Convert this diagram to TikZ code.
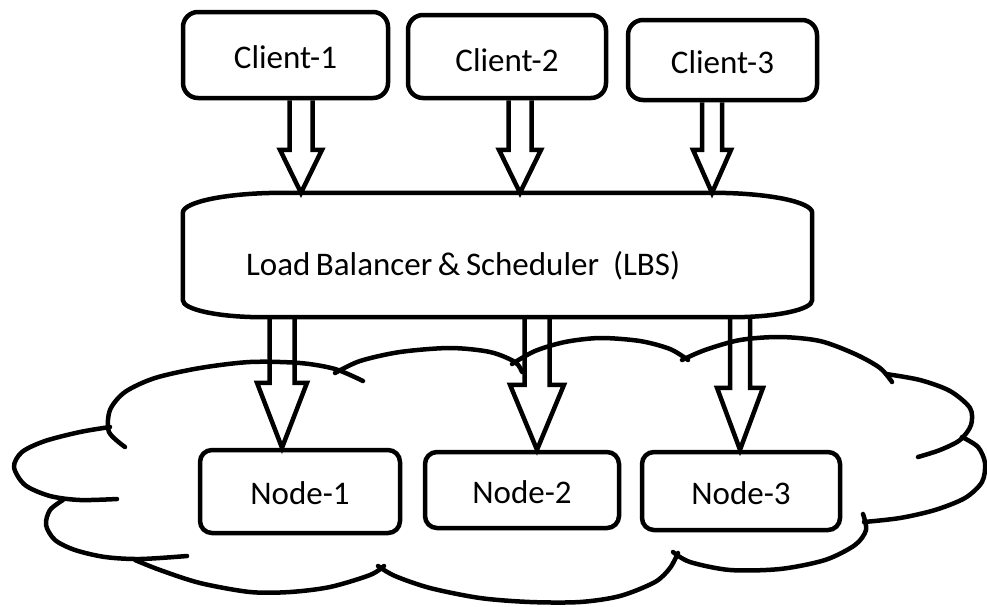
\documentclass[tikz,border=0pt]{standalone}
\usepackage{fontspec}
\setmainfont{Carlito}
\usetikzlibrary{calc}
\tikzset{
  stroke/.style={line width=4.5pt, draw=black},
  lbl/.style={font=\fontsize{33}{40}\selectfont, text height=26pt, text depth=0pt},
  client/.style={stroke, lbl, rounded corners=15pt, fill=white, inner sep=0pt},
  worker/.style={client, rounded corners=12pt},
  cloudline/.style={line width=4.5pt, line cap=round, line join=round},
  blockarrow/.style n args={4}{stroke, line join=miter, to path={let \p1=(\tikztostart), \p2=(\tikztotarget) in
    (\x1+#4-#1,\y1) -- (\x1+#4-#1,\y2+#3) -- (\x1+#4-#2,\y2+#3) -- (\x1+#4,\y2) -- (\x1+#4+#2,\y2+#3) -- (\x1+#4+#1,\y2+#3) -- (\x1+#4+#1,\y1)}},
}
\begin{document}
\begin{tikzpicture}[x=1pt,y=1pt]
\useasboundingbox (0,0) rectangle (987,-606);
% cloud lobes
\draw[cloudline] plot[smooth] coordinates {(125,-447) (109,-432) (110,-410) (125,-392) (155,-378) (200,-368) (250,-362) (300,-363) (335,-369) (363,-381)};
\draw[cloudline] plot[smooth] coordinates {(335,-373) (360,-361) (400,-352) (450,-348) (490,-352) (515,-362) (522,-372)};
\draw[cloudline] plot[smooth] coordinates {(512,-364) (535,-351) (565,-342) (600,-338) (640,-341) (670,-349) (688,-360)};
\draw[cloudline] plot[smooth] coordinates {(682,-360) (705,-350) (740,-340) (780,-337) (820,-341) (855,-354) (880,-368) (892,-382)};
\draw[cloudline] plot[smooth] coordinates {(886,-374) (920,-380) (950,-391) (970,-408) (971,-425) (960,-440) (940,-450) (918,-457)};
\draw[cloudline] plot[smooth] coordinates {(962,-437) (978,-447) (985,-463) (982,-482) (965,-498) (935,-510) (900,-518) (864,-522)};
\draw[cloudline] plot[smooth] coordinates {(863,-514) (866,-530) (855,-545) (825,-560) (780,-569) (730,-570) (690,-562) (673,-552)};
\draw[cloudline] plot[smooth] coordinates {(678,-553) (670,-568) (655,-582) (620,-596) (580,-602) (530,-602) (480,-598) (430,-588) (395,-576) (378,-566)};
\draw[cloudline] plot[smooth] coordinates {(384,-566) (370,-575) (330,-587) (290,-592) (250,-592) (200,-583) (160,-570) (135,-560)};
\draw[cloudline] plot[smooth] coordinates {(63,-500) (50,-510) (46,-525) (55,-540) (75,-550) (105,-557) (140,-559) (187,-556)};
\draw[cloudline] plot[smooth] coordinates {(117,-499) (80,-500) (50,-496) (25,-485) (14,-467) (22,-452) (45,-441) (80,-432) (110,-427)};
% clients
\node[client, minimum width=205pt, minimum height=86pt] (c1) at (285.5,-55) {Client-1};
\node[client, minimum width=198pt, minimum height=83pt, text height=30pt] (c2) at (507,-56.5) {Client-2};
\node[client, minimum width=189pt, minimum height=80pt] (c3) at (722.5,-60) {Client-3};
% load balancer
\node[lbl, text height=40pt, inner xsep=63pt, inner ysep=0pt, text width=503pt, align=left, minimum height=124pt] (lbs) at (497.5,-255) {\spaceskip=0.17em Load Balancer \& Scheduler\hspace{14pt}(LBS)};
\draw[stroke] ([yshift=-20pt]lbs.north west) arc[start angle=180, end angle=90, x radius=100pt, y radius=20pt]
  -- ([xshift=-100pt]lbs.north east) arc[start angle=90, end angle=0, x radius=100pt, y radius=20pt]
  -- ([yshift=17pt]lbs.south east) arc[start angle=0, end angle=-90, x radius=80pt, y radius=17pt]
  -- ([xshift=80pt]lbs.south west) arc[start angle=270, end angle=180, x radius=80pt, y radius=17pt]
  -- cycle;
% worker nodes
\node[worker, minimum width=200pt, minimum height=83pt] (n1) at (300,-491.5) {Node-1};
\node[worker, minimum width=194pt, minimum height=76pt] (n2) at (522,-490) {Node-2};
\node[worker, minimum width=198pt, minimum height=78pt] (n3) at (741,-491) {Node-3};
% arrows
\draw[blockarrow={11.5pt}{21pt}{43pt}{15.5pt}] (c1.south) to (lbs.north);
\draw[blockarrow={11.5pt}{21pt}{43pt}{13pt}] (c2.south) to (lbs.north);
\draw[blockarrow={10pt}{19pt}{43pt}{-10.5pt}] (c3.south) to (lbs.north);
\draw[blockarrow={12.5pt}{25pt}{65pt}{-18pt}] (lbs.south -| n1.north) to (n1.north);
\draw[blockarrow={12.5pt}{27pt}{65pt}{15pt}] (lbs.south -| n2.north) to (n2.north);
\draw[blockarrow={10pt}{23pt}{62pt}{-1pt}] (lbs.south -| n3.north) to (n3.north);
\end{tikzpicture}
\end{document}
